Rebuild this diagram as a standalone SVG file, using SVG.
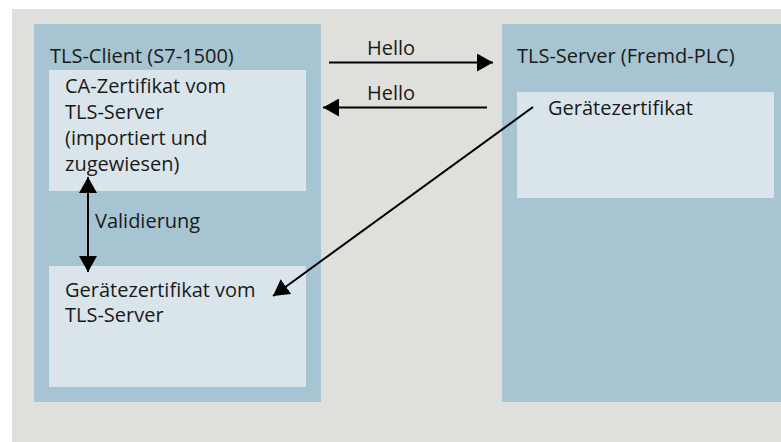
<svg xmlns="http://www.w3.org/2000/svg" width="781" height="442" viewBox="0 0 781 442">
  <style>
    .bg { fill: #ffffff; }
    .panel { fill: #dfe0db; }
    .outer { fill: #a7c4d2; }
    .inner { fill: #d9e5eb; }
    text { font-family: "Open Sans", "Noto Sans", "DejaVu Sans", sans-serif; font-size: 20px; fill: #1a1a1a; }
    .wire { stroke: #000; stroke-width: 2; fill: none; }
  </style>
  <defs>
    <marker id="head" viewBox="0 0 16 18" refX="16" refY="9" markerWidth="16" markerHeight="18" markerUnits="userSpaceOnUse" orient="auto-start-reverse">
      <path d="M0,0 L16,9 L0,18 Z" fill="#000"/>
    </marker>
  </defs>

  <rect class="bg" x="0" y="0" width="781" height="442"/>
  <rect class="panel" x="12" y="9" width="769" height="433"/>

  <g id="tls-client">
    <rect class="outer" x="34" y="24" width="287" height="378"/>
    <text x="50" y="63">TLS-Client (S7-1500)</text>
  </g>

  <g id="ca-cert">
    <rect class="inner" x="49" y="70" width="257" height="121"/>
    <text x="65" y="93">CA-Zertifikat vom</text>
    <text x="65" y="119">TLS-Server</text>
    <text x="65" y="145">(importiert und</text>
    <text x="65" y="171">zugewiesen)</text>
  </g>

  <g id="device-cert-client">
    <rect class="inner" x="49" y="266" width="257" height="121"/>
    <text x="65" y="297">Gerätezertifikat vom</text>
    <text x="65" y="322">TLS-Server</text>
  </g>

  <g id="tls-server">
    <rect class="outer" x="502" y="24" width="279" height="378"/>
    <text x="517" y="63">TLS-Server (Fremd-PLC)</text>
  </g>

  <g id="device-cert-server">
    <rect class="inner" x="517" y="92" width="257" height="106"/>
    <text x="548" y="115">Gerätezertifikat</text>
  </g>

  <g id="connectors">
    <line class="wire" x1="329" y1="62.5" x2="493" y2="62.5" marker-end="url(#head)"/>
    <text x="367" y="55">Hello</text>
    <line class="wire" x1="487" y1="107.5" x2="323" y2="107.5" marker-end="url(#head)"/>
    <text x="367" y="100">Hello</text>
    <line class="wire" x1="88" y1="177" x2="88" y2="272" marker-start="url(#head)" marker-end="url(#head)"/>
    <text x="95" y="228">Validierung</text>
    <line class="wire" x1="533" y1="107" x2="273" y2="296" marker-end="url(#head)"/>
  </g>
</svg>
